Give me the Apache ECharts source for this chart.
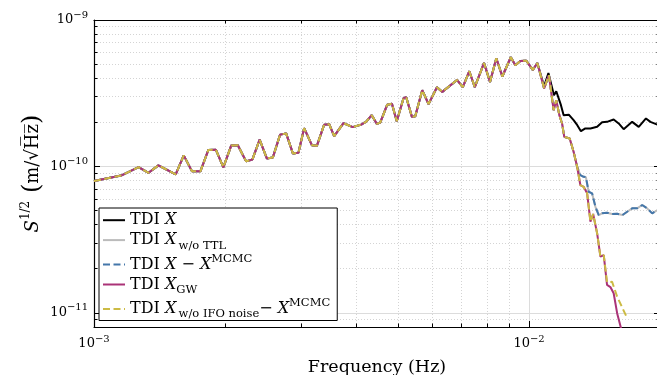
<!DOCTYPE html>
<html>
<head>
<meta charset="utf-8">
<script src="https://cdn.jsdelivr.net/npm/echarts@6/dist/echarts.min.js"></script>
<style>
  html, body { margin: 0; padding: 0; background: #fff; }
  #chart { width: 657px; height: 375px; }
</style>
</head>
<body>
<div id="chart"></div>
<script>
// shared part of all curves (Hz, m/sqrt(Hz))
const freqCommon = [
  1.000e-3, 1.154e-3, 1.266e-3, 1.335e-3, 1.406e-3, 1.541e-3, 1.608e-3, 1.680e-3, 1.756e-3, 1.832e-3,
  1.906e-3, 1.983e-3, 2.068e-3, 2.141e-3, 2.237e-3, 2.313e-3, 2.403e-3, 2.496e-3, 2.577e-3, 2.678e-3,
  2.765e-3, 2.865e-3, 2.951e-3, 3.041e-3, 3.168e-3, 3.253e-3, 3.381e-3, 3.472e-3, 3.565e-3, 3.745e-3,
  3.933e-3, 4.113e-3, 4.224e-3, 4.349e-3, 4.470e-3, 4.549e-3, 4.721e-3, 4.840e-3, 4.965e-3, 5.146e-3,
  5.220e-3, 5.381e-3, 5.476e-3, 5.682e-3, 5.875e-3, 6.143e-3, 6.318e-3, 6.830e-3, 7.042e-3, 7.290e-3,
  7.504e-3, 7.880e-3, 8.134e-3, 8.410e-3, 8.681e-3, 9.080e-3, 9.301e-3, 9.550e-3, 9.858e-3, 1.020e-2,
  1.045e-2
]
const valCommon = [
  7.94e-11, 8.66e-11, 9.89e-11, 9.04e-11, 1.017e-10, 8.83e-11, 1.189e-10, 9.25e-11, 9.25e-11, 1.296e-10,
  1.300e-10, 9.86e-11, 1.391e-10, 1.393e-10, 1.083e-10, 1.116e-10, 1.523e-10, 1.134e-10, 1.152e-10, 1.648e-10,
  1.680e-10, 1.227e-10, 1.238e-10, 1.825e-10, 1.397e-10, 1.382e-10, 1.928e-10, 1.943e-10, 1.609e-10, 1.974e-10,
  1.854e-10, 1.928e-10, 2.021e-10, 2.239e-10, 1.950e-10, 1.990e-10, 2.640e-10, 2.682e-10, 2.037e-10, 2.924e-10,
  2.970e-10, 2.180e-10, 2.204e-10, 3.315e-10, 2.661e-10, 3.475e-10, 3.228e-10, 3.896e-10, 3.475e-10, 4.468e-10,
  3.475e-10, 5.090e-10, 3.776e-10, 5.480e-10, 4.111e-10, 5.567e-10, 4.909e-10, 5.252e-10, 5.269e-10, 4.560e-10,
  5.090e-10
]

// TDI X above 10 mHz
const freqTdiX = [
  1.083e-2, 1.108e-2, 1.141e-2, 1.155e-2, 1.184e-2, 1.201e-2, 1.234e-2, 1.266e-2, 1.291e-2, 1.316e-2,
  1.347e-2, 1.384e-2, 1.434e-2, 1.472e-2, 1.511e-2, 1.565e-2, 1.607e-2, 1.650e-2, 1.726e-2, 1.787e-2,
  1.857e-2, 1.901e-2, 1.973e-2
]
const valTdiX = [
  3.530e-10, 4.349e-10, 3.064e-10, 3.263e-10, 2.619e-10, 2.239e-10, 2.256e-10, 2.069e-10, 1.913e-10, 1.741e-10,
  1.816e-10, 1.816e-10, 1.863e-10, 2.005e-10, 2.015e-10, 2.092e-10, 1.965e-10, 1.797e-10, 2.015e-10, 1.863e-10,
  2.126e-10, 2.015e-10, 1.928e-10
]

// drop shared by the other four curves
const freqFall = [1.083e-2, 1.111e-2, 1.139e-2, 1.155e-2, 1.174e-2, 1.191e-2, 1.205e-2, 1.240e-2, 1.266e-2, 1.290e-2]
const valFall = [3.405e-10, 4.195e-10, 2.421e-10, 2.833e-10, 2.239e-10, 1.965e-10, 1.592e-10, 1.552e-10, 1.258e-10, 9.94e-11]

// w/o TTL and X - X^MCMC floor
const freqNoTtl = [
  1.312e-2, 1.335e-2, 1.351e-2, 1.371e-2, 1.396e-2, 1.421e-2, 1.446e-2, 1.472e-2, 1.511e-2, 1.552e-2,
  1.594e-2, 1.639e-2, 1.681e-2, 1.726e-2, 1.772e-2, 1.820e-2, 1.869e-2, 1.919e-2, 1.973e-2
]
const valNoTtl = [
  8.72e-11, 8.49e-11, 8.45e-11, 6.71e-11, 6.55e-11, 5.30e-11, 4.65e-11, 4.78e-11, 4.83e-11, 4.73e-11,
  4.75e-11, 4.65e-11, 4.90e-11, 5.17e-11, 5.17e-11, 5.45e-11, 5.17e-11, 4.78e-11, 5.03e-11
]

// GW only
const freqGw = [1.312e-2, 1.335e-2, 1.360e-2, 1.384e-2, 1.404e-2, 1.434e-2, 1.459e-2, 1.485e-2, 1.511e-2, 1.538e-2, 1.565e-2, 1.594e-2, 1.631e-2]
const valGw = [7.46e-11, 7.26e-11, 6.55e-11, 4.19e-11, 4.73e-11, 3.49e-11, 2.42e-11, 2.48e-11, 1.55e-11, 1.50e-11, 1.36e-11, 9.94e-12, 7.64e-12]

// w/o IFO noise - X^MCMC
const freqNoIfo = [1.312e-2, 1.335e-2, 1.360e-2, 1.384e-2, 1.404e-2, 1.434e-2, 1.459e-2, 1.485e-2, 1.511e-2, 1.552e-2, 1.594e-2, 1.681e-2]
const valNoIfo = [7.46e-11, 7.26e-11, 6.55e-11, 4.19e-11, 4.73e-11, 3.49e-11, 2.42e-11, 2.48e-11, 1.62e-11, 1.63e-11, 1.29e-11, 9.19e-12]

const xRange = [1e-3, 2e-2]
const yRange = [8e-12, 1e-9]
const xMajor = [1e-3, 1e-2]
const yMajor = [1e-11, 1e-10, 1e-9]
const minorSteps = [2, 3, 4, 5, 6, 7, 8, 9]

const serif = "'DejaVu Serif', serif"
const lg = Math.log10

function toPairs(fs, vs) {
  return fs.map((f, i) => [lg(f), lg(vs[i])])
}

function minorOf(majors, range) {
  const out = []
  majors.concat([majors[0] / 10]).forEach(m => minorSteps.forEach(k => {
    const v = m * k
    if (v > range[0] && v < range[1]) out.push(lg(v))
  }))
  return out
}

function powLabel(v) {
  const e = Math.round(v)
  return '{b|10}{s|' + (e < 0 ? '\u2212' + (-e) : e) + '}'
}

const tickRich = {
  b: { fontFamily: serif, fontSize: 13, lineHeight: 20, color: '#000' },
  s: { fontFamily: serif, fontSize: 10, lineHeight: 10, verticalAlign: 'top', color: '#000' }
}

function axisSet(dim, range, majors) {
  const mn = lg(range[0]), mx = lg(range[1])
  const majorLog = majors.map(lg)
  const minorLog = minorOf(majors, range)
  const pos = dim === 'x' ? ['bottom', 'top'] : ['left', 'right']
  const base = { type: 'value', min: mn, max: mx }
  const spine = { show: true, lineStyle: { color: '#000', width: 1.2 } }
  const tick = (vals, len) => ({ show: true, inside: true, length: len, customValues: vals, lineStyle: { color: '#000', width: 1 } })
  return [
    Object.assign({}, base, {
      position: pos[0],
      axisLine: spine,
      axisTick: tick(majorLog, 6),
      axisLabel: { customValues: majorLog, formatter: powLabel, rich: tickRich, margin: dim === 'x' ? 7 : 6 },
      splitLine: { show: true, lineStyle: { color: '#dcdcdc', width: 1 } }
    }),
    Object.assign({}, base, {
      position: pos[0],
      axisLine: { show: false },
      axisTick: tick(minorLog, 3.5),
      axisLabel: { show: false },
      splitLine: { show: true, lineStyle: { color: '#d4d4d4', width: 1, type: [1, 2] } }
    }),
    Object.assign({}, base, {
      position: pos[1],
      axisLine: spine,
      axisTick: tick(majorLog, 6),
      axisLabel: { show: false },
      splitLine: { show: false }
    }),
    Object.assign({}, base, {
      position: pos[1],
      axisLine: { show: false },
      axisTick: tick(minorLog, 3.5),
      axisLabel: { show: false },
      splitLine: { show: false }
    })
  ]
}

const xAxes = axisSet('x', xRange, xMajor)
Object.assign(xAxes[0], {
  name: 'Frequency (Hz)',
  nameLocation: 'middle',
  nameGap: 31,
  nameMoveOverlap: false,
  nameTextStyle: { fontFamily: serif, fontSize: 17.5, color: '#000' }
})

const yAxes = axisSet('y', yRange, yMajor)
Object.assign(yAxes[0], {
  name: '{i|S}{sp|1/2}{p| (}{n|m/\u221aH\u0305z\u0305}{p|)}',
  nameLocation: 'middle',
  nameGap: 48,
  nameMoveOverlap: false,
  nameTextStyle: {
    rich: {
      i: { fontFamily: serif, fontStyle: 'italic', fontSize: 18, lineHeight: 26, color: '#000' },
      sp: { fontFamily: serif, fontSize: 12, lineHeight: 12, verticalAlign: 'top', color: '#000' },
      p: { fontFamily: serif, fontSize: 24, lineHeight: 26, color: '#000' },
      n: { fontFamily: serif, fontSize: 18, lineHeight: 26, color: '#000' }
    }
  }
})

const legendText = {
  'TDI X': '{n|TDI }{i|X}',
  'TDI X w/o TTL': '{n|TDI }{i|X}{sb|\u2009w/o TTL}',
  'TDI X - X^MCMC': '{n|TDI }{i|X}{n| \u2212 }{i|X}{sp|MCMC}',
  'TDI X_GW': '{n|TDI }{i|X}{sb|GW}',
  'TDI X w/o IFO noise - X^MCMC': '{n|TDI }{i|X}{sb|\u2009w/o IFO noise}{n|\u2212 }{i|X}{sp|MCMC}'
}

const legendRich = {
  n: { fontFamily: serif, fontSize: 16, lineHeight: 23, color: '#000' },
  i: { fontFamily: serif, fontStyle: 'italic', fontSize: 16, lineHeight: 23, color: '#000' },
  sb: { fontFamily: serif, fontSize: 11.5, lineHeight: 11, verticalAlign: 'bottom', color: '#000' },
  sp: { fontFamily: serif, fontSize: 11.5, lineHeight: 12, verticalAlign: 'top', color: '#000' }
}

function lineSeries(name, color, data, dashed) {
  return {
    name: name,
    type: 'line',
    data: data,
    symbol: 'none',
    showSymbol: false,
    animation: false,
    xAxisIndex: 0,
    yAxisIndex: 0,
    lineStyle: { color: color, width: 2, type: dashed ? [7, 3.5] : 'solid' },
    itemStyle: { color: color }
  }
}

const chart = echarts.init(document.getElementById('chart'), null, { renderer: 'canvas' })
chart.setOption({
  animation: false,
  backgroundColor: '#fff',
  grid: { left: 94, top: 20, right: -3, bottom: 48, containLabel: false, outerBoundsMode: 'none' },
  xAxis: xAxes,
  yAxis: yAxes,
  legend: {
    orient: 'vertical',
    left: 99,
    top: 208,
    padding: [3, 7, 0, 3],
    itemGap: 1.5,
    itemWidth: 22,
    itemHeight: 23,
    backgroundColor: '#fff',
    borderColor: '#000',
    borderWidth: 1,
    borderRadius: 0,
    itemStyle: { opacity: 0 },
    textStyle: { rich: legendRich, width: 210 },
    formatter: n => legendText[n]
  },
  series: [
    lineSeries('TDI X', '#000000', toPairs(freqCommon.concat(freqTdiX), valCommon.concat(valTdiX)), false),
    lineSeries('TDI X w/o TTL', '#bbbbbb', toPairs(freqCommon.concat(freqFall, freqNoTtl), valCommon.concat(valFall, valNoTtl)), false),
    lineSeries('TDI X - X^MCMC', '#4477aa', toPairs(freqCommon.concat(freqFall, freqNoTtl), valCommon.concat(valFall, valNoTtl)), true),
    lineSeries('TDI X_GW', '#aa3377', toPairs(freqCommon.concat(freqFall, freqGw), valCommon.concat(valFall, valGw)), false),
    lineSeries('TDI X w/o IFO noise - X^MCMC', '#ccbb44', toPairs(freqCommon.concat(freqFall, freqNoIfo), valCommon.concat(valFall, valNoIfo)), true)
  ]
})
</script>
</body>
</html>
